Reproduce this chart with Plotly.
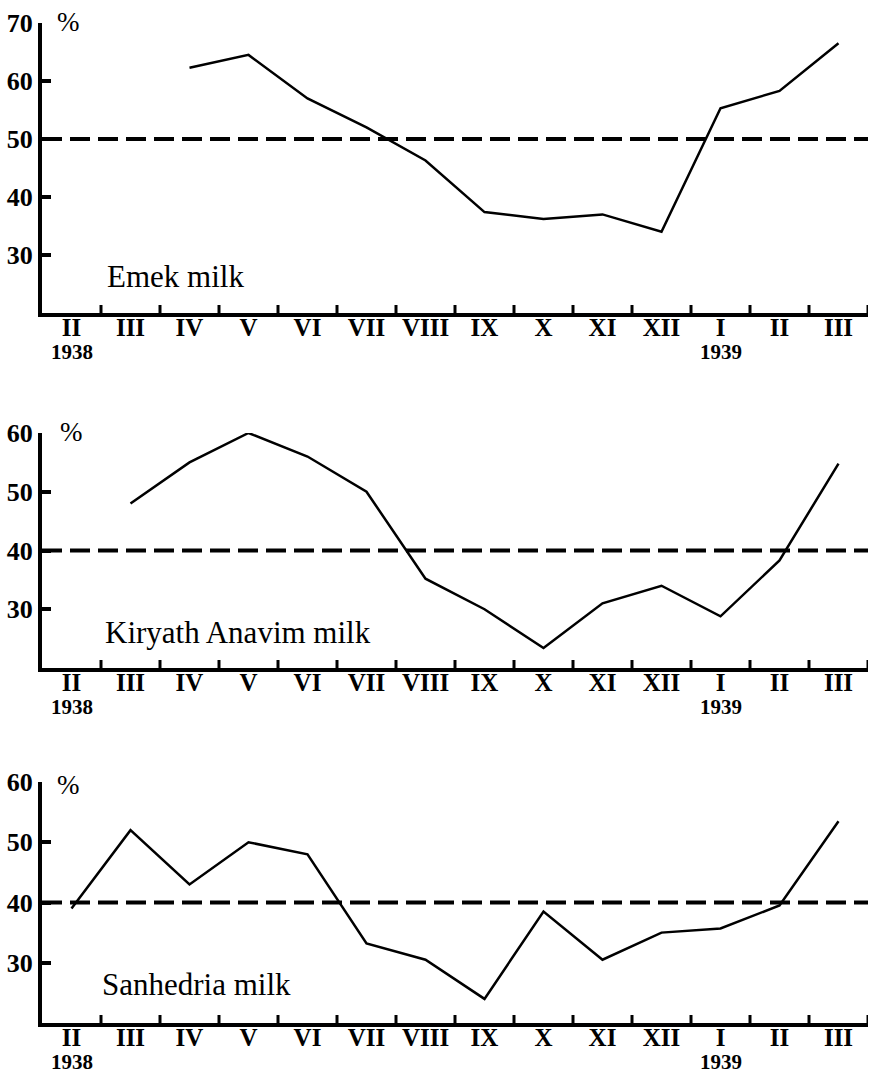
import plotly.graph_objects as go

W, H = 870, 1075

months = ["II", "III", "IV", "V", "VI", "VII", "VIII", "IX", "X", "XI", "XII", "I", "II", "III"]
year_marks = {0: "1938", 11: "1939"}

emek = [None, None, 62.3, 64.5, 57.0, 52.0, 46.3, 37.4, 36.2, 37.0, 34.0, 55.3, 58.3, 66.5]
kiryath = [None, 48.0, 55.0, 60.0, 56.0, 50.0, 35.2, 30.0, 23.4, 31.0, 34.0, 28.8, 38.3, 54.8]
sanhedria = [39.0, 52.0, 43.0, 50.0, 48.0, 33.2, 30.5, 24.0, 38.5, 30.5, 35.0, 35.7, 39.5, 53.5]

titles = ["Emek milk", "Kiryath Anavim milk", "Sanhedria milk"]
series = [emek, kiryath, sanhedria]
thresholds = [50, 40, 40]
y_ranges = [[20, 70], [20, 60], [20, 60]]
y_ticks = [[30, 40, 50, 60, 70], [30, 40, 50, 60], [30, 40, 50, 60]]

# pixel geometry of each panel: (top, bottom)
panel_px = [(23, 313), (433, 668), (782, 1023)]
x_px = (42, 868)
title_px = [(105, 276), (103, 632), (100, 984)]
pct_px = [(55, 22), (58, 432), (55, 785)]

FONT = "Liberation Serif"

fig = go.Figure()
xi = list(range(len(months)))

layout = dict(
    width=W, height=H, margin=dict(l=0, r=0, t=0, b=0, autoexpand=False),
    paper_bgcolor="white", plot_bgcolor="white", showlegend=False,
    font=dict(family=FONT, color="black"),
)
shapes = []
annotations = []

for k in range(3):
    n = "" if k == 0 else str(k + 1)
    xa, ya = "x" + n, "y" + n
    top, bot = panel_px[k]
    fig.add_trace(go.Scatter(
        x=xi, y=series[k], mode="lines", xaxis=xa, yaxis=ya,
        line=dict(color="black", width=2.5), connectgaps=False,
    ))
    layout["xaxis" + n] = dict(
        domain=[x_px[0] / W, x_px[1] / W], range=[-0.5, len(months) - 0.5],
        anchor=ya, showline=True, linewidth=4, linecolor="black",
        showgrid=False, zeroline=False, ticks="", automargin=False,
        tickmode="array", tickvals=xi, ticktext=months, ticklabelstandoff=-11,
        tickfont=dict(family=FONT, size=25, color="black", weight="bold"),
        fixedrange=True,
    )
    layout["yaxis" + n] = dict(
        domain=[1 - bot / H, 1 - top / H], range=y_ranges[k],
        anchor=xa, showline=True, linewidth=4, linecolor="black",
        showgrid=False, zeroline=False, ticks="inside", ticklen=9, tickwidth=4,
        tickcolor="black", tickmode="array", tickvals=y_ticks[k], automargin=False,
        tickfont=dict(family=FONT, size=26, color="black", weight="bold"),
        fixedrange=True,
    )
    # threshold dashed line
    shapes.append(dict(
        type="line", xref=xa + " domain", yref=ya, x0=0, x1=1,
        y0=thresholds[k], y1=thresholds[k],
        line=dict(color="black", width=4, dash="20px,8px"),
    ))
    # month boundary ticks crossing the x axis
    for b in range(1, len(months) + 1):
        shapes.append(dict(
            type="line", xref=xa, yref=ya, ysizemode="pixel",
            yanchor=y_ranges[k][0], x0=b - 0.5, x1=b - 0.5, y0=-8, y1=8,
            line=dict(color="black", width=3),
        ))
    # year labels under the first month of each year
    for i, yr in year_marks.items():
        annotations.append(dict(
            text=yr, xref=xa, yref=ya + " domain", x=i, y=0, yshift=-39,
            xanchor="center", yanchor="middle", showarrow=False, borderpad=0,
            font=dict(family=FONT, size=21, color="black", weight="bold"),
        ))
    tx, ty = title_px[k]
    annotations.append(dict(
        text=titles[k], xref="paper", yref="paper", x=tx / W, y=1 - ty / H,
        xanchor="left", yanchor="middle", showarrow=False,
        font=dict(family=FONT, size=31, color="black"),
    ))
    px_, py_ = pct_px[k]
    annotations.append(dict(
        text="%", xref="paper", yref="paper", x=px_ / W, y=1 - py_ / H,
        xanchor="left", yanchor="middle", showarrow=False,
        font=dict(family=FONT, size=27, color="black"),
    ))

layout["shapes"] = shapes
layout["annotations"] = annotations
fig.update_layout(**layout)
fig.write_html("out.html")
